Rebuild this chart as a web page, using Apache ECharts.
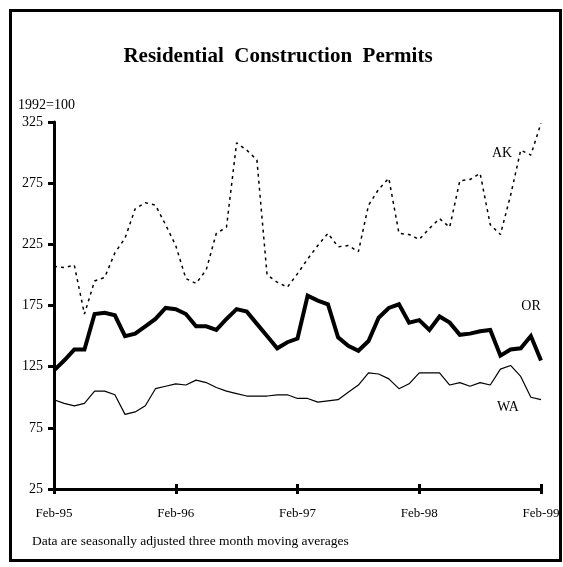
<!DOCTYPE html>
<html>
<head>
<meta charset="utf-8">
<script src="https://cdn.jsdelivr.net/npm/echarts@6/dist/echarts.min.js"></script>
<style>
  html, body { margin: 0; padding: 0; background: #fff; }
  #board { width: 563px; height: 567px; }
</style>
</head>
<body>
<div id="board"></div>
<script>
// monthly readings, index 0 = Feb-95, 48 = Feb-99
var tickLabels = ["Feb-95", "Feb-96", "Feb-97", "Feb-98", "Feb-99"];

var AK = [207, 206, 208, 168, 195, 198, 218, 230, 254, 259, 257, 241, 224, 197, 193, 204, 234, 239, 308, 302,
          294, 200, 194, 190, 201, 213, 224, 234, 223, 224, 219, 257, 270, 279, 234, 233, 229, 238, 246, 239,
          277, 278, 283, 241, 233, 265, 302, 298, 324];
var OR = [122, 130, 139, 139, 168, 169, 167, 150, 152, 158, 164, 173, 172, 168, 158, 158, 155, 164, 172, 170,
          160, 150, 140, 145, 148, 183, 179, 176, 149, 142, 138, 146, 165, 173, 176, 161, 163, 155, 166, 161,
          151, 152, 154, 155, 134, 139, 140, 150, 130];
var WA = [98, 95, 93, 95, 105, 105, 102, 86, 88, 93, 107, 109, 111, 110, 114, 112, 108, 105, 103, 101,
          101, 101, 102, 102, 99, 99, 96, 97, 98, 104, 110, 120, 119, 115, 107, 111, 120, 120, 120, 110,
          112, 109, 112, 110, 123, 126, 117, 100, 98];

var serif = "'Liberation Serif', 'Times New Roman', serif";

function pairs(arr) {
  return arr.map(function (v, i) { return [i, v]; });
}

var myChart = echarts.init(document.getElementById("board"));

var axisX = {
  type: "value",
  min: 0,
  max: 48,
  interval: 12,
  position: "bottom",
  axisLine: { show: true, onZero: false, lineStyle: { color: "#000", width: 3 } },
  axisTick: { show: true, length: 5, lineStyle: { color: "#000", width: 3 } },
  axisLabel: {
    color: "#000",
    fontFamily: serif,
    fontSize: 13,
    margin: 18,
    formatter: function (v) { return tickLabels[v / 12]; }
  },
  splitLine: { show: false }
};

var axisY = {
  type: "value",
  min: 25,
  max: 325,
  interval: 50,
  axisLine: { show: true, onZero: false, lineStyle: { color: "#000", width: 3 } },
  axisTick: { show: true, length: 6, lineStyle: { color: "#000", width: 3 } },
  axisLabel: { color: "#000", fontFamily: serif, fontSize: 14, margin: 11 },
  splitLine: { show: false }
};

var options = {
  animation: false,
  backgroundColor: "#fff",
  grid: { left: 54, top: 122, width: 487, height: 367 },
  xAxis: [
    axisX,
    // second copy so the ticks cross the axis line
    Object.assign({}, axisX, {
      axisLine: { show: false },
      axisLabel: { show: false },
      axisTick: { show: true, inside: true, length: 5, lineStyle: { color: "#000", width: 3 } }
    })
  ],
  yAxis: [
    axisY,
    Object.assign({}, axisY, {
      axisLine: { show: false },
      axisLabel: { show: false },
      axisTick: { show: true, inside: true, length: 6, lineStyle: { color: "#000", width: 3 } }
    })
  ],
  series: [
    {
      name: "AK", type: "line", data: pairs(AK),
      symbol: "none",
      lineStyle: { color: "#000", width: 1.5, type: [3, 4] }
    },
    {
      name: "OR", type: "line", data: pairs(OR),
      symbol: "none",
      lineStyle: { color: "#000", width: 4, join: "miter" }
    },
    {
      name: "WA", type: "line", data: pairs(WA),
      symbol: "none",
      lineStyle: { color: "#000", width: 1.2 }
    }
  ],
  graphic: [
    {
      type: "rect", silent: true,
      shape: { x: 10.5, y: 10.5, width: 550, height: 550 },
      style: { fill: "none", stroke: "#000", lineWidth: 3 }
    },
    {
      type: "text", x: 278, y: 57,
      style: {
        text: "Residential  Construction  Permits", fill: "#000",
        font: "bold 21px " + serif, textAlign: "center", textVerticalAlign: "middle"
      }
    },
    {
      type: "text", x: 18, y: 105,
      style: { text: "1992=100", fill: "#000", font: "14px " + serif, textVerticalAlign: "middle" }
    },
    {
      type: "text", x: 502, y: 153,
      style: { text: "AK", fill: "#000", font: "14px " + serif, textAlign: "center", textVerticalAlign: "middle" }
    },
    {
      type: "text", x: 531, y: 306,
      style: { text: "OR", fill: "#000", font: "14px " + serif, textAlign: "center", textVerticalAlign: "middle" }
    },
    {
      type: "text", x: 508, y: 407,
      style: { text: "WA", fill: "#000", font: "14px " + serif, textAlign: "center", textVerticalAlign: "middle" }
    },
    {
      type: "text", x: 32, y: 541,
      style: {
        text: "Data are seasonally adjusted three month moving averages", fill: "#000",
        font: "13.5px " + serif, textVerticalAlign: "middle"
      }
    }
  ]
};

myChart.setOption(options);
</script>
</body>
</html>
